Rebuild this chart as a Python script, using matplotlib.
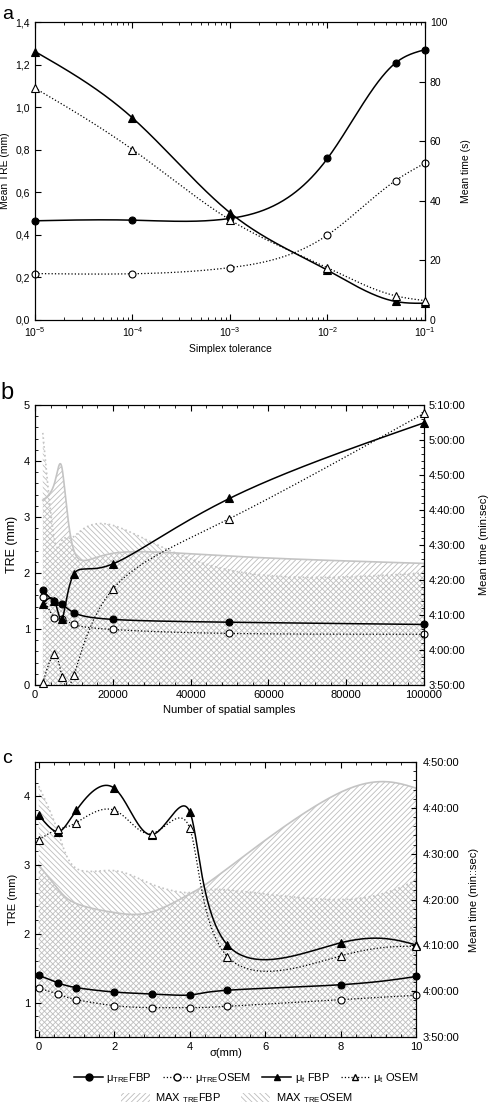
import numpy as np
import matplotlib
matplotlib.use("Agg")
import matplotlib.pyplot as plt
from matplotlib.ticker import AutoMinorLocator, FuncFormatter, MultipleLocator
from matplotlib.lines import Line2D
from matplotlib.patches import Patch

plt.rcParams["font.family"] = ["Liberation Sans", "DejaVu Sans"]
plt.rcParams["mathtext.fontset"] = "custom"
plt.rcParams["mathtext.rm"] = "Liberation Sans"
plt.rcParams["mathtext.it"] = "Liberation Sans:italic"
plt.rcParams["hatch.linewidth"] = 0.6

# ---- panel a: simplex tolerance ----
tol = [1e-5, 1e-4, 1e-3, 1e-2, 5e-2, 1e-1]
a_tre_fbp = [0.466, 0.469, 0.477, 0.759, 1.208, 1.270]
a_tre_osem = [0.218, 0.217, 0.246, 0.399, 0.655, 0.737]
a_t_fbp = [90.1, 67.8, 36.0, 16.7, 6.2, 5.6]      # seconds
a_t_osem = [77.8, 57.2, 33.6, 17.5, 8.1, 6.5]

# ---- panel b: number of spatial samples ----
samples = [2000, 5000, 7000, 10000, 20000, 50000, 100000]
b_tre_fbp = [1.69, 1.49, 1.44, 1.29, 1.17, 1.12, 1.08]
b_tre_osem = [1.57, 1.20, 1.18, 1.08, 0.99, 0.92, 0.905]
b_t_fbp = [15188, 15240, 14933, 15701, 15874, 16997, 18293]   # seconds
b_t_osem = [13835, 14328, 13932, 13963, 15442, 16651, 18456]
b_max_fbp = [3.30, 3.60, 3.85, 2.40, 2.35, 2.30, 2.17]
b_max_osem = [4.50, 2.60, 2.60, 2.65, 2.85, 2.05, 2.00]

# ---- panel c: sigma ----
sigma = [0, 0.5, 1, 2, 3, 4, 5, 8, 10]
c_tre_fbp = [1.397, 1.29, 1.218, 1.154, 1.125, 1.11, 1.18, 1.26, 1.38]
c_tre_osem = [1.212, 1.125, 1.044, 0.956, 0.927, 0.927, 0.946, 1.044, 1.106]
c_t_fbp = [16707, 16488, 16770, 17058, 16449, 16752, 15006, 15033, 15006]
c_t_osem = [16383, 16518, 16608, 16770, 16464, 16536, 14853, 14862, 14988]
c_max_fbp = [3.00, 2.66, 2.44, 2.31, 2.32, 2.58, 2.95, 4.06, 4.12]
c_max_osem = [4.15, 3.50, 2.95, 2.92, 2.72, 2.60, 2.64, 2.50, 2.78]


def nat(t, y, ts):
    # natural cubic spline y(t) evaluated at ts
    y = np.asarray(y, float)
    m = len(t)
    h = np.diff(t)
    A = np.zeros((m, m))
    r = np.zeros(m)
    A[0, 0] = A[-1, -1] = 1
    for i in range(1, m - 1):
        A[i, i - 1] = h[i - 1]
        A[i, i] = 2 * (h[i - 1] + h[i])
        A[i, i + 1] = h[i]
        r[i] = 3 * ((y[i + 1] - y[i]) / h[i] - (y[i] - y[i - 1]) / h[i - 1])
    c = np.linalg.solve(A, r)
    b = (y[1:] - y[:-1]) / h - h * (2 * c[:-1] + c[1:]) / 3
    d = (c[1:] - c[:-1]) / (3 * h)
    i = np.clip(np.searchsorted(t, ts) - 1, 0, m - 2)
    u = ts - t[i]
    return y[i] + b[i] * u + c[i] * u ** 2 + d[i] * u ** 3


def smooth(x, y, param=False, n=400):
    x = np.asarray(x, float)
    if param:
        # spline parametrised by point index
        t = np.arange(len(x), dtype=float)
        ts = np.linspace(0, len(x) - 1, n)
        return nat(t, x, ts), nat(t, y, ts)
    xs = np.linspace(x[0], x[-1], n)
    return xs, nat(x, y, xs)


def series(ax, x, y, marker, filled, solid, logx=False, param=True):
    xx = np.log10(x) if logx else np.asarray(x, float)
    xs, ys = smooth(xx, y, param=param)
    if logx:
        xs = 10 ** xs
    ax.plot(xs, ys, color="k", lw=1.1 if solid else 0.9, ls="-" if solid else ":")
    ax.plot(x, y, ls="none", marker=marker, ms=5 if marker == "o" else 5.5,
            mfc="k" if filled else "w", mec="k", mew=0.8, clip_on=False, zorder=5)


def max_area(ax, x, y, hatch, ls):
    xs, ys = smooth(x, y, param=True)
    ax.fill_between(xs, 0, ys, facecolor="none", edgecolor="#bcbcbc",
                    hatch=hatch, linewidth=0, zorder=0)
    ax.plot(xs, ys, color="#c4c4c4", lw=1.2, ls=ls, zorder=0.5)


def hms(v, pos=None):
    v = int(round(v))
    return "%d:%02d:%02d" % (v // 3600, (v % 3600) // 60, v % 60)


def style(ax):
    ax.tick_params(which="both", direction="in", top=True, labelsize=8)
    ax.tick_params(which="major", length=4)
    ax.tick_params(which="minor", length=2)


fig = plt.figure(figsize=(4.93, 11.06), dpi=100)

# ---------------- a ----------------
ax = fig.add_axes([0.071, 0.7107, 0.791, 0.2694])
ax2 = ax.twinx()
series(ax, tol, a_tre_fbp, "o", True, True, logx=True, param=False)
series(ax, tol, a_tre_osem, "o", False, False, logx=True, param=False)
series(ax2, tol, a_t_fbp, "^", True, True, logx=True, param=False)
series(ax2, tol, a_t_osem, "^", False, False, logx=True, param=False)
ax.set_xscale("log")
ax.set_xlim(1e-5, 1e-1)
ax.set_ylim(0, 1.4)
ax.yaxis.set_major_locator(MultipleLocator(0.2))
ax.yaxis.set_major_formatter(FuncFormatter(lambda v, p: ("%.1f" % v).replace(".", ",")))
ax2.set_ylim(0, 100)
ax2.yaxis.set_major_locator(MultipleLocator(20))
style(ax)
ax.tick_params(labelsize=7.5)
ax2.tick_params(direction="in", labelsize=7.5, length=4)
ax.set_xlabel("Simplex tolerance", fontsize=7.5, labelpad=4)
ax.set_ylabel("Mean TRE (mm)", fontsize=7.5, labelpad=4)
ax2.set_ylabel("Mean time (s)", fontsize=7.5, labelpad=10)
fig.text(0.004, 0.995, "a", fontsize=14, va="top")

# ---------------- b ----------------
ax = fig.add_axes([0.071, 0.3807, 0.789, 0.2532])
ax2 = ax.twinx()
max_area(ax, samples, b_max_fbp, "//////", "-")
max_area(ax, samples, b_max_osem, "\\\\\\\\\\\\", ":")
series(ax, samples, b_tre_fbp, "o", True, True)
series(ax, samples, b_tre_osem, "o", False, False)
series(ax2, samples, b_t_fbp, "^", True, True)
series(ax2, samples, b_t_osem, "^", False, False)
ax.set_xlim(0, 100000)
ax.set_ylim(0, 5)
ax.xaxis.set_major_locator(MultipleLocator(20000))
ax.xaxis.set_minor_locator(AutoMinorLocator(5))
ax.yaxis.set_major_locator(MultipleLocator(1))
ax.yaxis.set_minor_locator(AutoMinorLocator(5))
ax2.set_ylim(13800, 18600)
ax2.yaxis.set_major_locator(MultipleLocator(600))
ax2.yaxis.set_minor_locator(AutoMinorLocator(5))
ax2.yaxis.set_major_formatter(FuncFormatter(hms))
style(ax)
ax2.tick_params(which="both", direction="in", labelsize=8)
ax2.tick_params(which="minor", length=2)
ax.set_xlabel("Number of spatial samples", fontsize=8)
ax.set_ylabel("TRE (mm)", fontsize=9)
ax2.set_ylabel("Mean time (min:sec)", fontsize=8, labelpad=10)
fig.text(0.0, 0.655, "b", fontsize=17, va="top")

# ---------------- c ----------------
ax = fig.add_axes([0.071, 0.0624, 0.7728, 0.2486])
ax2 = ax.twinx()
max_area(ax, sigma, c_max_fbp, "//////", "-")
max_area(ax, sigma, c_max_osem, "\\\\\\\\\\\\", ":")
series(ax, sigma, c_tre_fbp, "o", True, True)
series(ax, sigma, c_tre_osem, "o", False, False)
series(ax2, sigma, c_t_fbp, "^", True, True)
series(ax2, sigma, c_t_osem, "^", False, False)
ax.set_xlim(-0.1, 10)
ax.set_ylim(0.5, 4.5)
ax.xaxis.set_major_locator(MultipleLocator(2))
ax.xaxis.set_minor_locator(AutoMinorLocator(5))
ax.yaxis.set_major_locator(MultipleLocator(1))
ax.yaxis.set_minor_locator(AutoMinorLocator(5))
ax2.set_ylim(13800, 17400)
ax2.yaxis.set_major_locator(MultipleLocator(600))
ax2.yaxis.set_minor_locator(AutoMinorLocator(5))
ax2.yaxis.set_major_formatter(FuncFormatter(hms))
style(ax)
ax2.tick_params(which="both", direction="in", labelsize=8, pad=5)
ax2.tick_params(which="minor", length=2)
ax.set_xlabel("σ(mm)", fontsize=8, labelpad=-3)
ax.set_ylabel("TRE (mm)", fontsize=8)
ax2.set_ylabel("Mean time (min::sec)", fontsize=8, labelpad=7)
fig.text(0.004, 0.322, "c", fontsize=14, va="top")

# ---------------- legend ----------------
h_lines = [
    Line2D([], [], color="k", lw=1.1, marker="o", ms=5, mfc="k"),
    Line2D([], [], color="k", lw=0.9, ls=":", marker="o", ms=5, mfc="w"),
    Line2D([], [], color="k", lw=1.1, marker="^", ms=5, mfc="k"),
    Line2D([], [], color="k", lw=0.9, ls=":", marker="^", ms=5, mfc="w"),
]
l_lines = [r"μ$_{\mathrm{TRE}}$FBP", r"μ$_{\mathrm{TRE}}$OSEM",
           r"μ$_{\mathrm{t}}$ FBP", r"μ$_{\mathrm{t}}$ OSEM"]
fig.legend(h_lines, l_lines, ncol=4, loc="center", bbox_to_anchor=(0.5, 1 - 1078 / 1106),
           frameon=False, fontsize=8, handlelength=2.6, handletextpad=0.3, columnspacing=1.0)
h_patch = [Patch(facecolor="w", edgecolor="#bcbcbc", hatch="//////", lw=0),
           Patch(facecolor="w", edgecolor="#bcbcbc", hatch="\\\\\\\\\\\\", lw=0)]
l_patch = [r"MAX $_{\mathrm{TRE}}$FBP", r"MAX $_{\mathrm{TRE}}$OSEM"]
fig.legend(h_patch, l_patch, ncol=2, loc="center", bbox_to_anchor=(0.48, 1 - 1098 / 1106),
           frameon=False, fontsize=8, handlelength=2.6, handleheight=0.9,
           handletextpad=0.5, columnspacing=1.8)

fig.savefig("out.png", dpi=100)
